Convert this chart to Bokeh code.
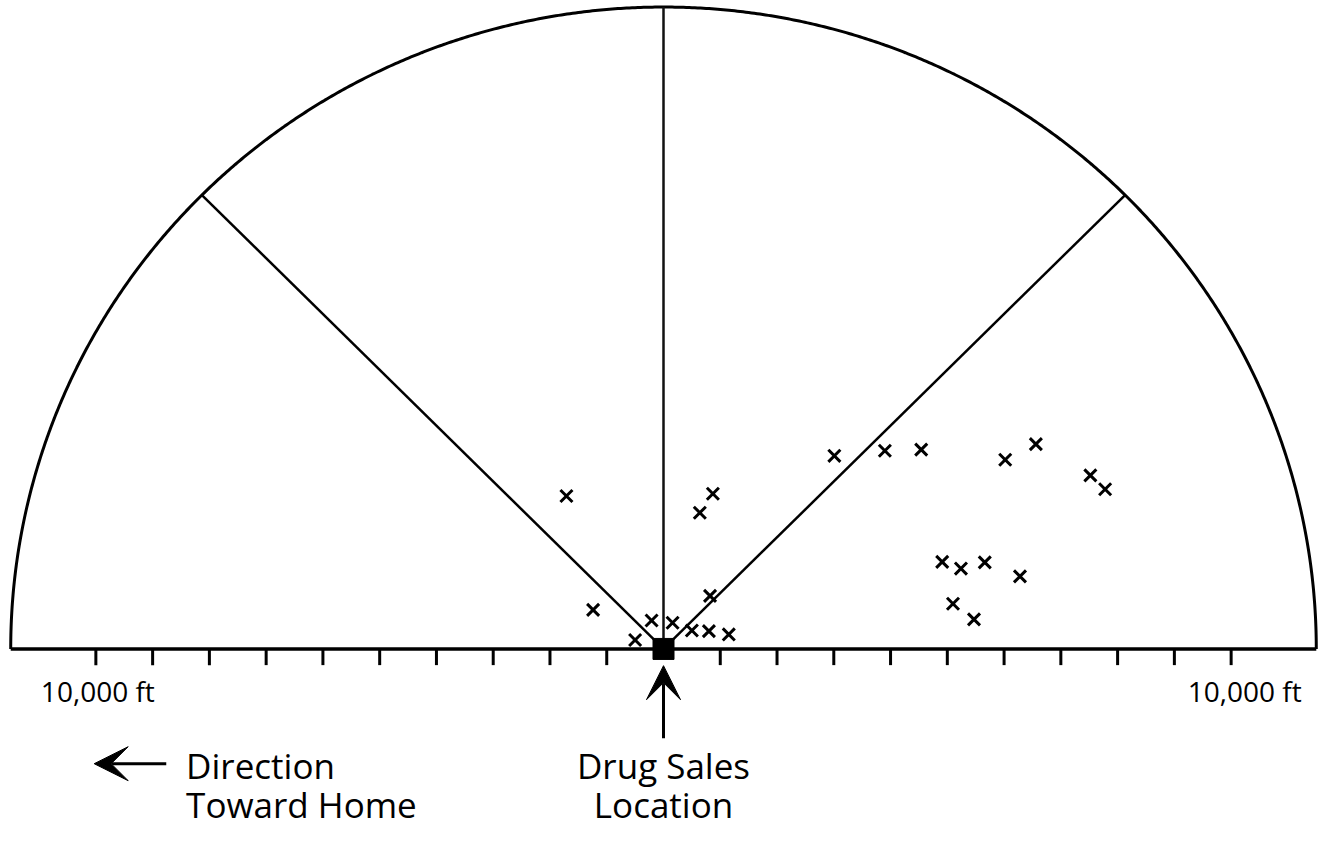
import numpy as np
from bokeh.plotting import figure
from bokeh.models import Range1d, Arrow, VeeHead
from bokeh.core.properties import value
from bokeh.embed import file_html
from bokeh.resources import INLINE

# ---- data (feet, relative to drug sales location) ----
sale_x = [-1710, -1240, -500, -210, 160, 500, 800, 1150, 820, 640, 870,
          3010, 3900, 4540, 6020, 6560, 7520, 7780,
          4910, 5240, 5660, 6280, 5100, 5470]
sale_y = [2740, 700, 160, 510, 470, 330, 320, 260, 950, 2440, 2780,
          3460, 3550, 3570, 3390, 3670, 3110, 2860,
          1560, 1440, 1550, 1300, 810, 530]
radius_ft = 11500
tick_ft = [-10000, -9000, -8000, -7000, -6000, -5000, -4000, -3000, -2000, -1000,
           1000, 2000, 3000, 4000, 5000, 6000, 7000, 8000, 9000, 10000]
scale_labels = ["10,000 ft", "10,000 ft"]
divider_deg = [45, 135]
center_deg = 90

FONT = value("Open Sans")

p = figure(width=1326, height=827, output_backend="svg", toolbar_location=None,
           x_range=Range1d(-11680, 11680), y_range=Range1d(-3199, 11617),
           min_border=0)
p.axis.visible = False
p.grid.visible = False
p.outline_line_color = None
p.background_fill_color = "white"
p.border_fill_color = "white"

# semicircle
th = np.linspace(0, np.pi, 721)
p.line(radius_ft * np.cos(th), radius_ft * np.sin(th), line_color="black", line_width=3)
# baseline
p.line([-radius_ft, radius_ft], [0, 0], line_color="black", line_width=3.5)
# ticks
tick_len = 290
p.segment(x0=tick_ft, y0=[0] * len(tick_ft), x1=tick_ft, y1=[-tick_len] * len(tick_ft),
          line_color="black", line_width=3)
# dividers
for d in divider_deg:
    a = np.radians(d)
    p.line([0, radius_ft * np.cos(a)], [0, radius_ft * np.sin(a)], line_color="black", line_width=2.5)
a = np.radians(center_deg)
p.line([0, radius_ft * np.cos(a)], [0, radius_ft * np.sin(a)], line_color="#111111",
       line_width=2.5)

# sales points
p.scatter(sale_x, sale_y, marker="x", size=17, line_color="black", line_width=3)
# drug sales location square
p.scatter([0], [0], marker="square", size=21, fill_color="black", line_color="black")

# scale labels
p.text(x=[-9965, 10240], y=[-759, -759], text=scale_labels, text_font=FONT,
       text_font_size="28px", text_align="center", text_baseline="alphabetic", text_color="black")

# arrows
p.add_layout(Arrow(end=VeeHead(size=34, fill_color="black", line_color="black"),
                   x_start=0, y_start=-1600, x_end=0, y_end=-300,
                   line_color="black", line_width=3))
p.add_layout(Arrow(end=VeeHead(size=34, fill_color="black", line_color="black"),
                   x_start=-8760, y_start=-2056, x_end=-10030, y_end=-2056,
                   line_color="black", line_width=3))

p.text(x=[0, 0], y=[-2082, -2785], text=["Drug Sales", "Location"], text_font=FONT,
       text_font_size="35px", text_align="center", text_baseline="alphabetic", text_color="black")
p.text(x=[-8410, -8410], y=[-2082, -2785], text=["Direction", "Toward Home"], text_font=FONT,
       text_font_size="35px", text_align="left", text_baseline="alphabetic", text_color="black")

open("out.html", "w").write(file_html(p, INLINE))
